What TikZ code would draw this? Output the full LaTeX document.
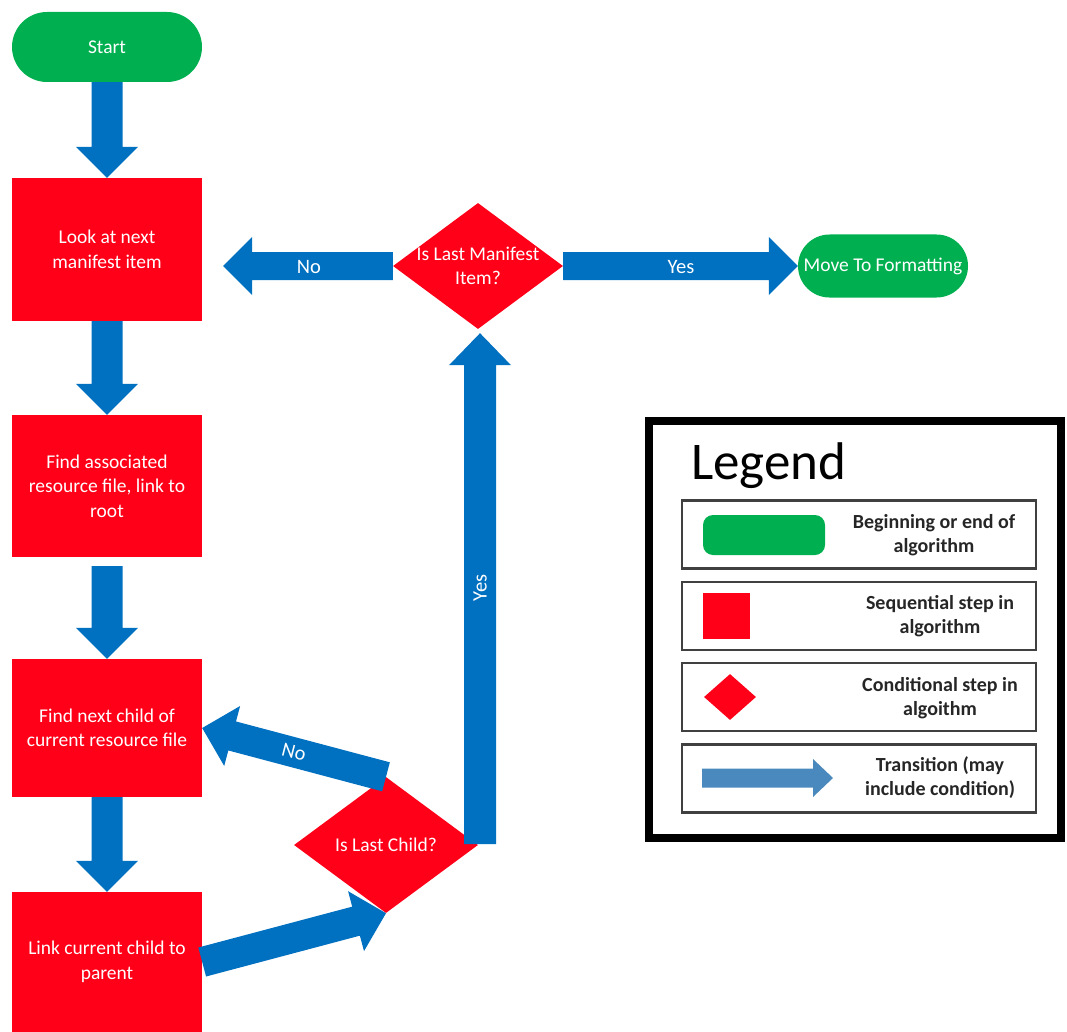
\documentclass[tikz,border=0pt]{standalone}
\usepackage{fontspec}
\setmainfont{Carlito}
\usetikzlibrary{calc,shapes.geometric}
\definecolor{fgreen}{HTML}{00B050}
\definecolor{fred}{HTML}{FF0018}
\definecolor{fblue}{HTML}{0070C0}
\definecolor{lblue}{HTML}{4A89BD}
\definecolor{rowgray}{HTML}{404040}
% block arrow: from, to, shaft half width, head half width, head length, colour
\newcommand\barrow[6]{%
  \coordinate (bh) at ($(#2)!#5!(#1)$);
  \fill[#6] ($(#1)!#3!90:(#2)$) -- ($(bh)!#3!90:(#2)$) -- ($(bh)!#4!90:(#2)$) -- (#2)
    -- ($(bh)!#4!-90:(#2)$) -- ($(bh)!#3!-90:(#2)$) -- ($(#1)!#3!-90:(#2)$) -- cycle;}
\begin{document}
\begin{tikzpicture}[x=1pt,y=-1pt,
  txt/.style={text=white, align=center, font=\fontsize{19.5}{24.5}\selectfont},
  stepbox/.style={rectangle, fill=fred, minimum width=190pt, inner sep=0pt, txt},
  termbox/.style={rectangle, fill=fgreen, inner sep=0pt, txt},
  decbox/.style={diamond, fill=fred, inner sep=0pt},
  lbl/.style={text=white, font=\fontsize{20.5}{24}\selectfont, inner sep=0pt},
  legrow/.style={rectangle, draw=rowgray, line width=2.5pt, minimum width=354pt, minimum height=68pt, inner sep=0pt},
  legtxt/.style={align=center, font=\fontsize{20}{24}\selectfont\bfseries, text=black!85}
]
\useasboundingbox (0,0) rectangle (1067,1032);

% nodes
\node[termbox, minimum width=190pt, minimum height=70pt, rounded corners=35pt] (start) at (107,47) {Start};
\node[stepbox, minimum height=143pt] (look) at (107,249.5) {Look at next\\manifest item};
\node[stepbox, minimum height=142pt] (assoc) at (107,486) {Find associated\\resource file, link to\\root};
\node[stepbox, minimum height=138pt] (next) at (107,728) {Find next child of\\current resource file};
\node[stepbox, minimum height=140pt] (link) at (107,962) {Link current child to\\parent};
\node[decbox, minimum width=170pt, minimum height=126pt] (lastman) at (478,266) {};
\node[txt, inner sep=0pt] (lastmantxt) at (lastman) {Is Last Manifest\\Item?};
\node[decbox, minimum width=184pt, minimum height=136pt] (lastchild) at (386,845) {};
\node[txt, inner sep=0pt] (lastchildtxt) at (lastchild) {Is Last Child?};
\node[termbox, minimum width=170pt, minimum height=63pt, rounded corners=31.5pt] (move) at (883,266) {Move To Formatting};

% arrow end points
\coordinate (a3s) at ($(assoc.south)+(0,9)$);
\coordinate (noT) at ($(look.east |- lastman.west)+(21,0)$);
\coordinate (yvS) at ($(lastchild.east)+(2,-1)$);
\coordinate (yvT) at ($(lastman.south)+(2,4)$);

% arrows
\barrow{start.south}{look.north}{15.5pt}{31pt}{31pt}{fblue}
\barrow{look.south}{assoc.north}{15.5pt}{31pt}{31pt}{fblue}
\barrow{a3s}{next.north}{15.5pt}{31pt}{31pt}{fblue}
\barrow{next.south}{link.north}{15.5pt}{31pt}{31pt}{fblue}
\barrow{lastman.west}{noT}{14pt}{29pt}{29pt}{fblue}
\barrow{lastman.east}{move.west}{14pt}{29pt}{29pt}{fblue}
\barrow{yvS}{yvT}{16pt}{31pt}{32pt}{fblue}
\barrow{lastchild.north}{next.east}{15pt}{31pt}{31pt}{fblue}
\barrow{link.east}{lastchild.south}{15pt}{31pt}{31pt}{fblue}

% arrow labels
\node[lbl] (lno) at (309,267) {No};
\node[lbl] (lyes) at (681,267) {Yes};
\node[lbl, rotate=90] (lyesv) at (480,588) {Yes};
\node[lbl, rotate=-14.4] (lnod) at (294,752) {No};

% legend
\draw[line width=8pt] (649,421) rectangle (1061,838);
\node[anchor=west, font=\fontsize{53}{60}\selectfont, inner sep=0pt] (legtitle) at (691,466) {Legend};
\node[legrow] (r1) at (859,534.5) {};
\node[legrow] (r2) at (859,616) {};
\node[legrow] (r3) at (859,697) {};
\node[legrow] (r4) at (859,778.5) {};
\node[rectangle, fill=fgreen, minimum width=122pt, minimum height=40pt, rounded corners=10pt, inner sep=0pt] (lg1) at (764,535) {};
\node[rectangle, fill=fred, minimum width=47pt, minimum height=46pt, inner sep=0pt] (lg2) at (726.5,616) {};
\node[decbox, minimum width=52pt, minimum height=46pt] (lg3) at (730,697) {};
\coordinate (lg4s) at (702,778);
\coordinate (lg4t) at (833,778);
\barrow{lg4s}{lg4t}{9.5pt}{19pt}{20pt}{lblue}
\node[legtxt] (t1) at (934,535) {Beginning or end of\\algorithm};
\node[legtxt] (t2) at (940,616) {Sequential step in\\algorithm};
\node[legtxt] (t3) at (940,698) {Conditional step in\\algoithm};
\node[legtxt] (t4) at (940,778) {Transition (may\\include condition)};
\end{tikzpicture}
\end{document}
